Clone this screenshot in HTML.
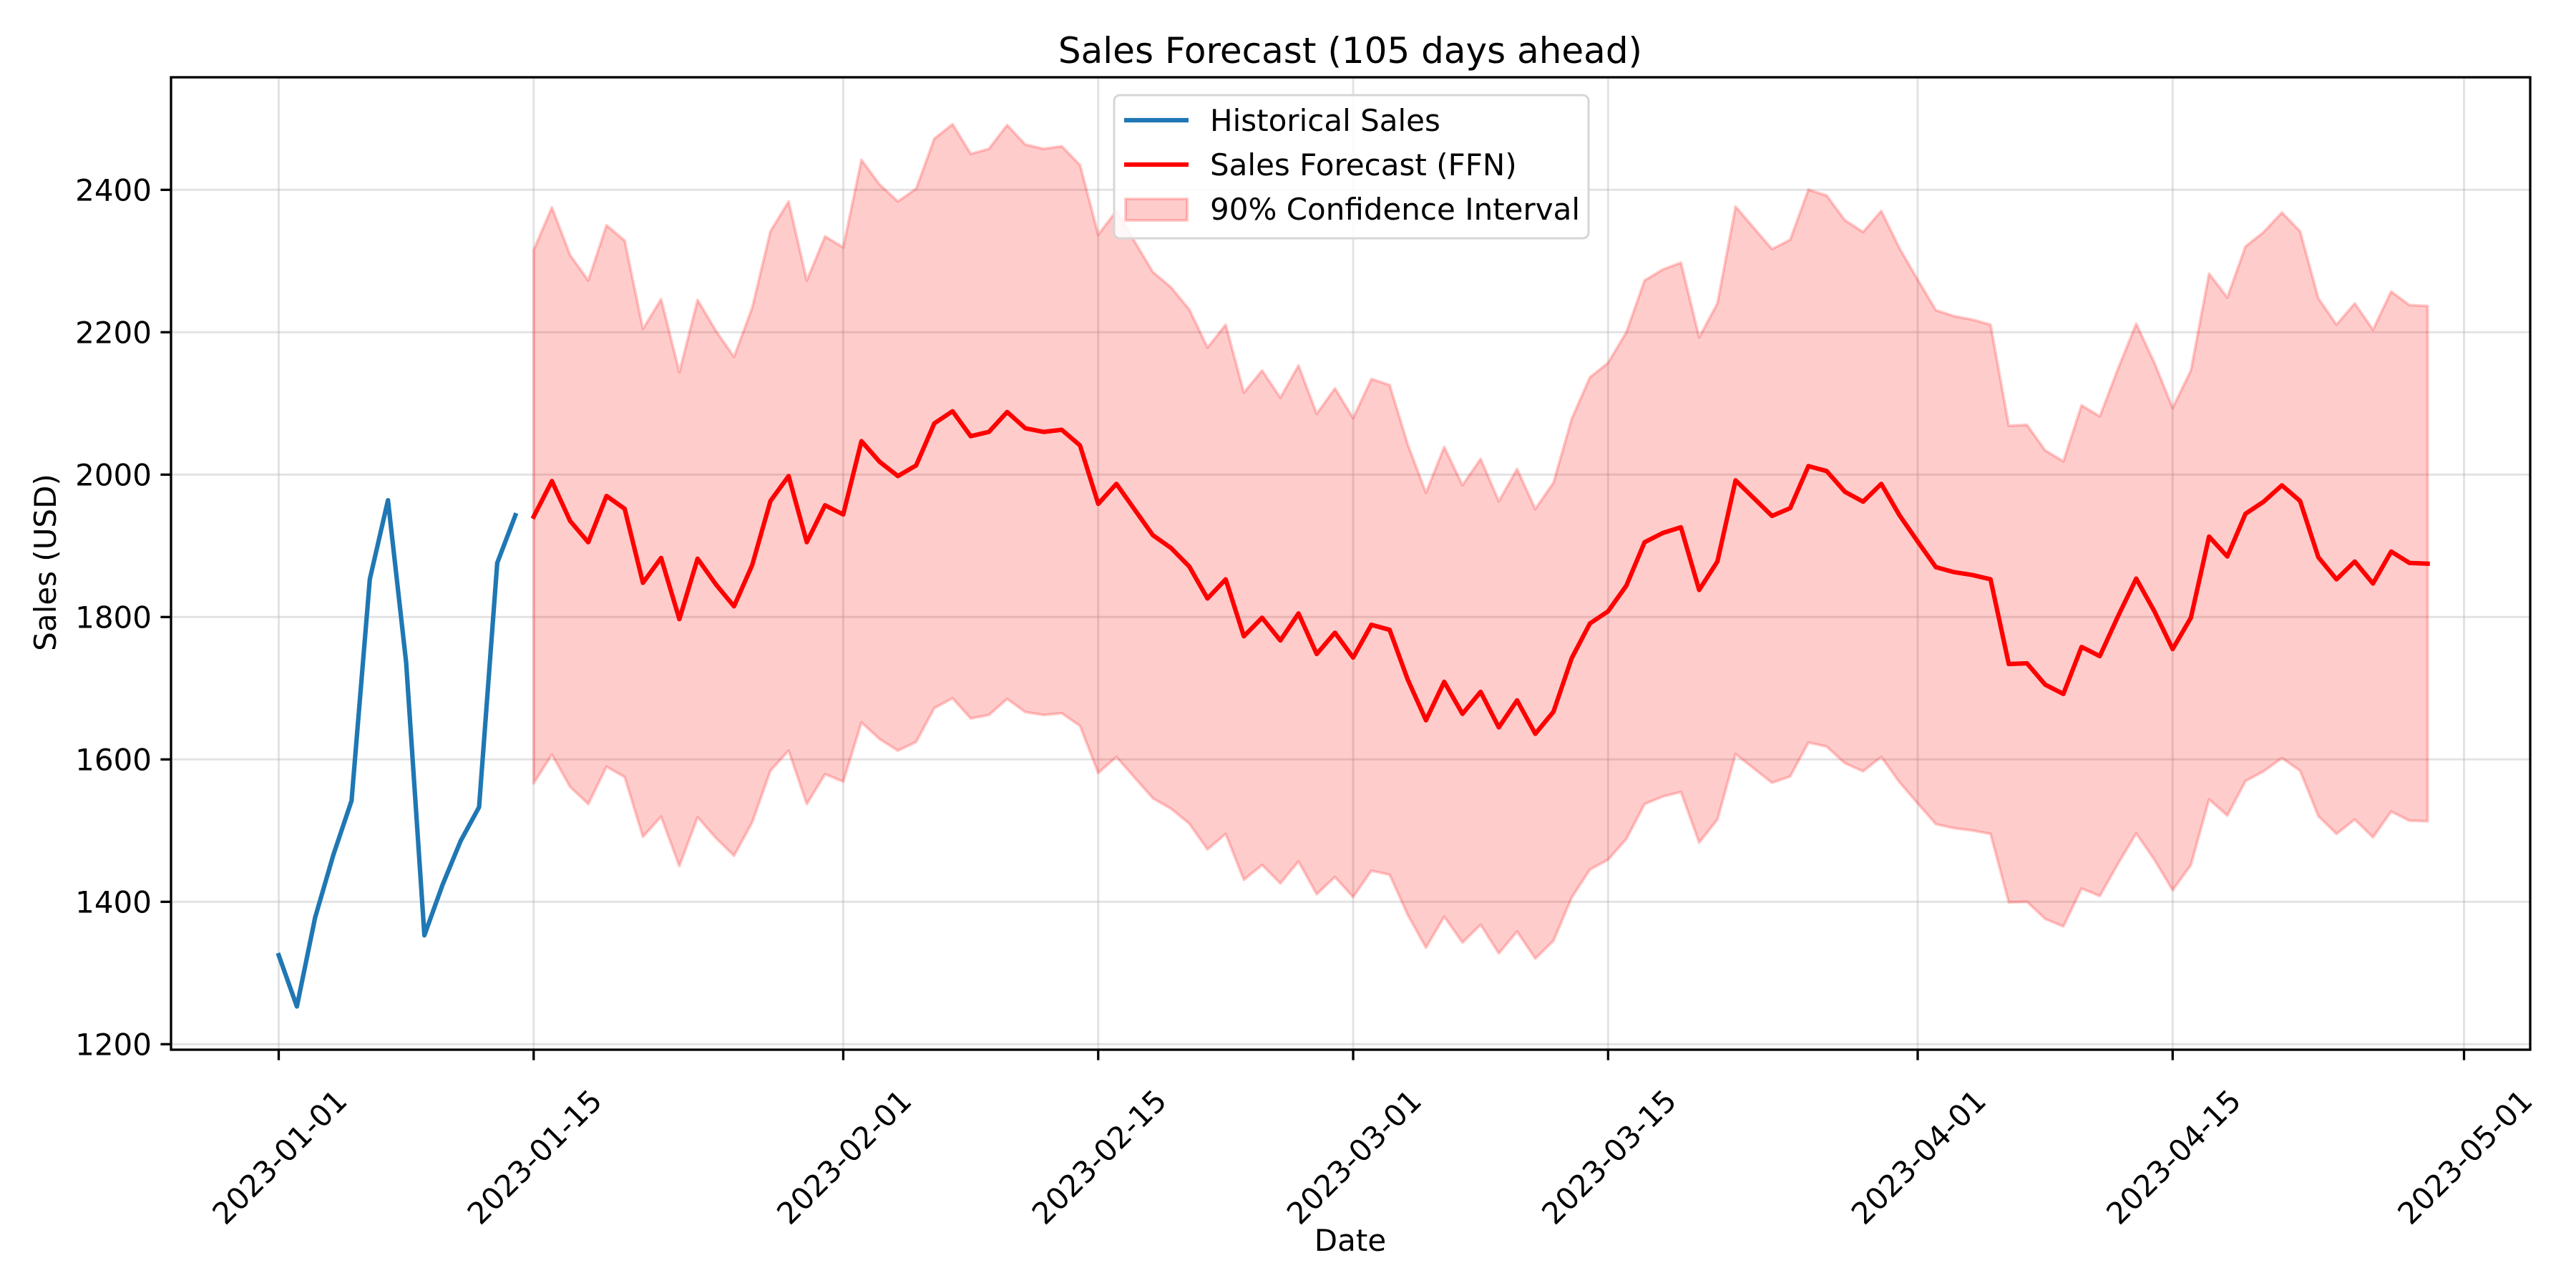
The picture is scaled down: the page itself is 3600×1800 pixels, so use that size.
<!DOCTYPE html>
<html><head><meta charset="utf-8"><style>
html,body{margin:0;padding:0;background:#fff;}
svg{display:block;font-family:"DejaVu Sans","Liberation Sans",sans-serif;}
</style></head><body>
<svg id="chart" width="3600" height="1800" viewBox="0 0 3600 1800" xmlns="http://www.w3.org/2000/svg">
<rect width="3600" height="1800" fill="#fff"/>
<g id="grid"></g>
<g id="marks"></g>
<g id="axes"></g>
<text x="1887" y="88" font-size="50" text-anchor="middle">Sales Forecast (105 days ahead)</text>
<text x="1887" y="1748" font-size="42" text-anchor="middle">Date</text>
<text x="0" y="0" font-size="42" text-anchor="middle" transform="translate(78,786) rotate(-90)">Sales (USD)</text>
<g>
  <rect x="1557" y="133" width="663" height="200" rx="8" fill="#fff" fill-opacity="0.85" stroke="#d6d6d6" stroke-width="3"/>
  <g>
    <line x1="1571" y1="168" x2="1661" y2="168" stroke="#1f77b4" stroke-width="6.25"/>
    <text x="1691" y="183" font-size="42">Historical Sales</text>
  </g>
  <g>
    <line x1="1571" y1="230" x2="1661" y2="230" stroke="#ff0000" stroke-width="6.25"/>
    <text x="1691" y="245" font-size="42">Sales Forecast (FFN)</text>
  </g>
  <g>
    <rect x="1573" y="278" width="86" height="30" fill="#ff0000" fill-opacity="0.2" stroke="#ff0000" stroke-opacity="0.2" stroke-width="4"/>
    <text x="1691" y="307" font-size="42">90% Confidence Interval</text>
  </g>
</g>
</svg>
<script>
// ---- data ----
const historyStart = "2023-01-01";
const historyValues = [1325,1253,1378,1466,1542,1853,1964,1736,1353,1424,1486,1533,1876,1943];
const forecastStart = "2023-01-15";
const forecastValues = [1941,1991,1935,1905,1970,1952,1848,1883,1797,1882,1846,1815,1873,1963,1998,1905,1957,1944,2047,2018,1998,2013,2072,2089,2054,2060,2088,2065,2060,2063,2041,1959,1987,1951,1915,1897,1871,1826,1853,1773,1799,1767,1805,1748,1778,1743,1789,1782,1712,1655,1709,1664,1695,1645,1683,1636,1667,1742,1791,1808,1844,1905,1918,1926,1838,1878,1992,1967,1942,1953,2012,2005,1976,1962,1987,1943,1906,1870,1863,1859,1853,1734,1735,1705,1692,1758,1745,1801,1854,1808,1755,1799,1913,1885,1945,1962,1985,1963,1884,1853,1878,1847,1892,1876,1875];
const ciRelativeHalfWidth = 0.193;
const yTicks = [1200,1400,1600,1800,2000,2200,2400];
const xTickLabels = ["2023-01-01","2023-01-15","2023-02-01","2023-02-15","2023-03-01","2023-03-15","2023-04-01","2023-04-15","2023-05-01"];

// ---- scales ----
const NS = "http://www.w3.org/2000/svg";
const AX = {l:239, r:3536, t:108, b:1467};
const DAY = 86400000;
const d0 = Date.parse("2023-01-01T00:00:00Z");
function dayIndex(s){ return (Date.parse(s+"T00:00:00Z") - d0)/DAY; }
function xPos(day){ return 389.5 + day*25.45; }
function yPos(v){ return 663.3 - (v-2000)*0.995; }
function mk(tag, attrs, parent){ const e=document.createElementNS(NS,tag); for(const k in attrs) e.setAttribute(k,attrs[k]); parent.appendChild(e); return e; }

const grid = document.getElementById('grid');
const marks = document.getElementById('marks');
const axes = document.getElementById('axes');

yTicks.forEach(v=>{
  const g = mk('line',{x1:AX.l,x2:AX.r,y1:yPos(v),y2:yPos(v),stroke:'#b0b0b0','stroke-opacity':0.35,'stroke-width':3},grid);
  
  
});
xTickLabels.forEach(s=>{
  const x=xPos(dayIndex(s));
  const g = mk('line',{x1:x,x2:x,y1:AX.t,y2:AX.b,stroke:'#b0b0b0','stroke-opacity':0.35,'stroke-width':3},grid);
  
  
});

const fStart = dayIndex(forecastStart);
let upperPts=[], lowerPts=[], fPts=[];
forecastValues.forEach((v,i)=>{
  const x=xPos(fStart+i);
  upperPts.push(x.toFixed(1)+','+yPos(v*(1+ciRelativeHalfWidth)).toFixed(1));
  lowerPts.push(x.toFixed(1)+','+yPos(v*(1-ciRelativeHalfWidth)).toFixed(1));
  fPts.push(x.toFixed(1)+','+yPos(v).toFixed(1));
});
const band = mk('polygon',{points:upperPts.concat(lowerPts.slice().reverse()).join(' '),fill:'#ff0000','fill-opacity':0.2,stroke:'#ff0000','stroke-opacity':0.2,'stroke-width':4,'stroke-linejoin':'round'},marks);



const hStart = dayIndex(historyStart);
const hPts = historyValues.map((v,i)=>xPos(hStart+i).toFixed(1)+','+yPos(v).toFixed(1));
const hl = mk('polyline',{points:hPts.join(' '),fill:'none',stroke:'#1f77b4','stroke-width':6.25,'stroke-linejoin':'round','stroke-linecap':'square'},marks);



const fl = mk('polyline',{points:fPts.join(' '),fill:'none',stroke:'#ff0000','stroke-width':6.25,'stroke-linejoin':'round','stroke-linecap':'square'},marks);



const frame = mk('rect',{x:AX.l,y:AX.t,width:AX.r-AX.l,height:AX.b-AX.t,fill:'none',stroke:'#000','stroke-width':3.3},axes);



yTicks.forEach(v=>{
  const y=yPos(v);
  const t = mk('line',{x1:AX.l-14.6,x2:AX.l,y1:y,y2:y,stroke:'#000','stroke-width':3.3},axes);
  
  
  const lab = mk('text',{x:AX.l-27,y:y+15,'font-size':42,'text-anchor':'end'},axes);
  lab.textContent=String(v);
  
  
});
xTickLabels.forEach(s=>{
  const x=xPos(dayIndex(s));
  const t = mk('line',{x1:x,x2:x,y1:AX.b,y2:AX.b+14.6,stroke:'#000','stroke-width':3.3},axes);
  
  
  const lab = mk('text',{x:0,y:0,'font-size':42,'text-anchor':'end',transform:'translate('+(x+98).toFixed(1)+',1541) rotate(-45)'},axes);
  lab.textContent=s;
  
  
});
</script>
</body></html>
